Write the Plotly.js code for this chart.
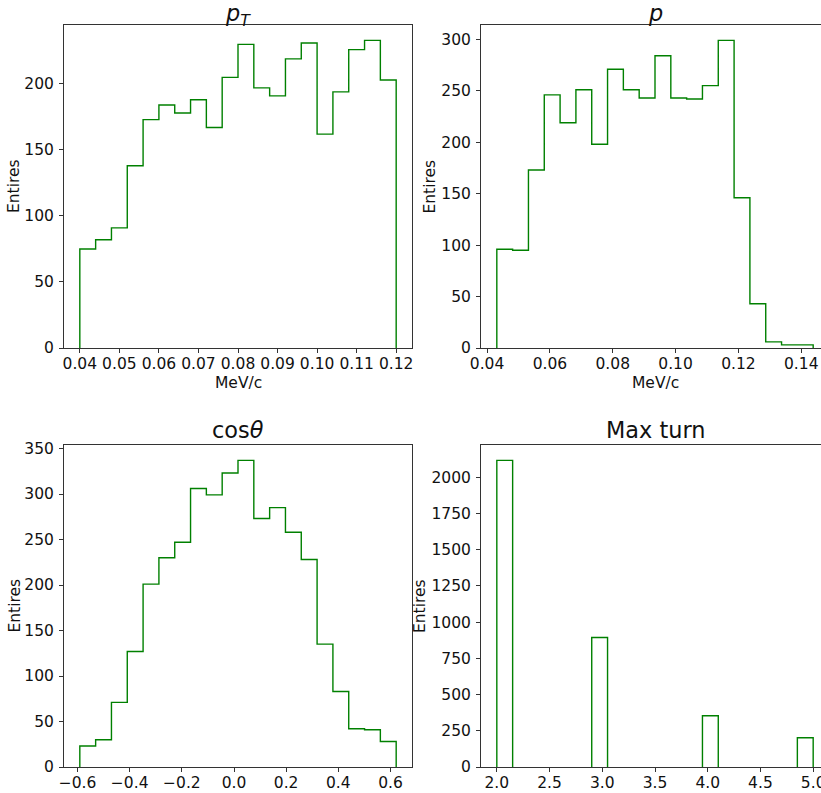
<!DOCTYPE html>
<html>
<head>
<meta charset="utf-8">
<script src="https://cdn.plot.ly/plotly-3.0.1.min.js"></script>
<style>
html, body { margin: 0; padding: 0; overflow: hidden; background: #fff; }
#chart { width: 850px; height: 793px; }
</style>
</head>
<body>
<div id="chart"></div>
<script>
// ---- data ----
var ptRange = [0.04, 0.12];
var ptCounts = [75, 82, 91, 138, 173, 184, 178, 188, 167, 205, 230, 197, 191, 219, 231, 162, 194, 226, 233, 203];

var pRange = [0.0431, 0.1438];
var pCounts = [96, 95, 173, 246, 219, 251, 198, 271, 251, 243, 284, 243, 242, 255, 299, 146, 43, 6, 3, 3];

var cosRange = [-0.5912, 0.6219];
var cosCounts = [23, 30, 71, 127, 201, 230, 247, 306, 299, 323, 337, 273, 285, 258, 228, 135, 83, 42, 41, 28];

var turnRange = [2, 5];
var turnCounts = [2117, 0, 0, 0, 0, 0, 894, 0, 0, 0, 0, 0, 0, 354, 0, 0, 0, 0, 0, 202];

var titles = ['<i>p</i><sub><i>T</i></sub>', '<i>p</i>', 'cos<i>θ</i>', 'Max turn'];
var xLabel = 'MeV/c';
var yLabel = 'Entires';

var ptTicks = [0.04, 0.05, 0.06, 0.07, 0.08, 0.09, 0.10, 0.11, 0.12];
var pTicks = [0.04, 0.06, 0.08, 0.10, 0.12, 0.14];
var cosTicks = [-0.6, -0.4, -0.2, 0.0, 0.2, 0.4, 0.6];
var turnTicks = [2.0, 2.5, 3.0, 3.5, 4.0, 4.5, 5.0];
var ptYTicks = [0, 50, 100, 150, 200];
var pYTicks = [0, 50, 100, 150, 200, 250, 300];
var cosYTicks = [0, 50, 100, 150, 200, 250, 300, 350];
var turnYTicks = [0, 250, 500, 750, 1000, 1250, 1500, 1750, 2000];

// ---- helpers ----
// outline of a step histogram; segments lying on the baseline are left out
function stepPath(range, counts) {
  var n = counts.length, w = (range[1] - range[0]) / n;
  var pts = [[range[0], 0]];
  for (var i = 0; i < n; i++) {
    var e0 = range[0] + i * w, e1 = range[0] + (i + 1) * w;
    pts.push([e0, counts[i]]);
    pts.push([e1, counts[i]]);
  }
  pts.push([range[1], 0]);
  var xs = [], ys = [];
  for (var j = 0; j < pts.length; j++) {
    if (j > 0 && pts[j][1] === 0 && pts[j - 1][1] === 0) { xs.push(null); ys.push(null); }
    xs.push(pts[j][0]); ys.push(pts[j][1]);
  }
  return {x: xs, y: ys};
}
function xlim(range) { var m = 0.05 * (range[1] - range[0]); return [range[0] - m, range[1] + m]; }
function ylim(counts) { return [0, 1.05 * Math.max.apply(null, counts)]; }

var W = 850, H = 793;
function fx(px) { return px / W; }
function fy(py) { return 1 - py / H; }

var FONT = 'DejaVu Sans, sans-serif';
// pixel boxes [left, right, top, bottom]
var boxes = [[64, 412, 25, 348], [481, 829, 25, 348], [64, 412, 445, 767], [481, 829, 445, 767]];
var ranges = [ptRange, pRange, cosRange, turnRange];
var counts = [ptCounts, pCounts, cosCounts, turnCounts];
var xt = [ptTicks, pTicks, cosTicks, turnTicks];
var yt = [ptYTicks, pYTicks, cosYTicks, turnYTicks];
var xfmt = ['.2f', '.2f', '.1f', '.1f'];
var titleTop = [-2, -2, 415, 415];

var data = [], layout = {
  width: W, height: H,
  margin: {l: 0, r: 0, t: 0, b: 0},
  paper_bgcolor: '#fff', plot_bgcolor: '#fff',
  showlegend: false,
  font: {family: FONT, size: 15.5, color: '#111'},
  annotations: []
};

for (var k = 0; k < 4; k++) {
  var s = stepPath(ranges[k], counts[k]);
  var xa = k === 0 ? 'x' : 'x' + (k + 1), ya = k === 0 ? 'y' : 'y' + (k + 1);
  data.push({
    type: 'scatter', mode: 'lines', x: s.x, y: s.y, xaxis: xa, yaxis: ya,
    connectgaps: false,
    line: {color: '#008000', width: 1.4}, hoverinfo: 'skip'
  });
  var b = boxes[k];
  var axCommon = {
    showgrid: false, zeroline: false, showline: true, mirror: true,
    linecolor: '#333', linewidth: 1, ticks: 'outside', ticklen: 4, tickwidth: 1,
    tickcolor: '#333', tickfont: {family: FONT, size: 15.5, color: '#111'},
    automargin: false, fixedrange: true, layer: 'above traces'
  };
  layout['xaxis' + (k === 0 ? '' : (k + 1))] = Object.assign({}, axCommon, {
    domain: [fx(b[0]), fx(b[1])], anchor: ya, range: xlim(ranges[k]),
    tickmode: 'array', tickvals: xt[k], tickformat: xfmt[k], ticklabelstandoff: -3
  });
  layout['yaxis' + (k === 0 ? '' : (k + 1))] = Object.assign({}, axCommon, {
    domain: [fy(b[3]), fy(b[2])], anchor: xa, range: ylim(counts[k]),
    tickmode: 'array', tickvals: yt[k], ticklabelstandoff: 2
  });
  // title
  layout.annotations.push({
    text: titles[k], xref: 'paper', yref: 'paper',
    x: fx((b[0] + b[1]) / 2), y: fy(titleTop[k]), xanchor: 'center', yanchor: 'top',
    showarrow: false, font: {family: FONT, size: 22.4, color: '#111'}
  });
  // y label
  var ylx = k % 2 === 0 ? 14.5 : (k === 1 ? 430 : 420);
  layout.annotations.push({
    text: yLabel, xref: 'paper', yref: 'paper', textangle: -90,
    x: fx(ylx), y: fy((b[2] + b[3]) / 2), xanchor: 'center', yanchor: 'middle',
    showarrow: false, font: {family: FONT, size: 15.5, color: '#111'}
  });
  if (k < 2) {
    layout.annotations.push({
      text: xLabel, xref: 'paper', yref: 'paper',
      x: fx((b[0] + b[1]) / 2), y: fy(383), xanchor: 'center', yanchor: 'middle',
      showarrow: false, font: {family: FONT, size: 15.5, color: '#111'}
    });
  }
}

Plotly.newPlot('chart', data, layout, {displayModeBar: false, staticPlot: true});
</script>
</body>
</html>
